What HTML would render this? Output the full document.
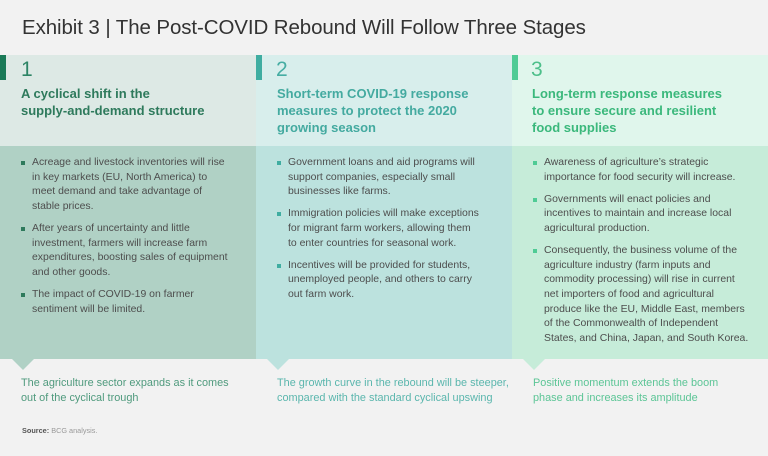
<!DOCTYPE html>
<html><head><meta charset="utf-8">
<style>
*{margin:0;padding:0;box-sizing:border-box}
html,body{width:768px;height:456px;overflow:hidden;background:#f2f2f2;font-family:"Liberation Sans",sans-serif}
.abs{position:absolute}
.title{left:22px;top:16px;font-size:20.5px;color:#333;white-space:nowrap;letter-spacing:-0.1px}
.hdr{top:55px;height:91px}
.bdy{top:146px;height:213px}
.bar{top:55px;width:6px;height:25px}
.num{top:58px;font-size:21px;font-weight:normal;line-height:24px}
.h{top:85px;font-size:13px;font-weight:bold;line-height:17px;white-space:nowrap}
.ul{font-size:10.45px;line-height:14.7px;color:#4d4d4d;white-space:nowrap}
.li{position:relative;padding-left:11px;margin-bottom:7.2px}
.li:before{content:"";position:absolute;left:0;top:5px;width:4px;height:4px}
.tri{top:359px;width:0;height:0;border-left:11px solid transparent;border-right:11px solid transparent;border-top:11px solid}
.ft{top:376px;font-size:10.9px;line-height:14.5px;white-space:nowrap}
.src{left:22px;top:426px;font-size:7.3px;color:#999;white-space:nowrap}
</style></head><body>
<div class="abs title">Exhibit 3 | The Post-COVID Rebound Will Follow Three Stages</div>

<!-- column 1 -->
<div class="abs hdr" style="left:0;width:256px;background:#dde9e5"></div>
<div class="abs bdy" style="left:0;width:256px;background:#b0d1c5"></div>
<div class="abs bar" style="left:0;background:#1a7a57"></div>
<div class="abs num" style="left:21px;color:#2d8465">1</div>
<div class="abs h" style="left:21px;color:#2e7a5c">A cyclical shift in the<br>supply-and-demand structure</div>
<div class="abs ul" style="left:21px;top:156px">
<div class="li">Acreage and livestock inventories will rise<br>in key markets (EU, North America) to<br>meet demand and take advantage of<br>stable prices.</div>
<div class="li">After years of uncertainty and little<br>investment, farmers will increase farm<br>expenditures, boosting sales of equipment<br>and other goods.</div>
<div class="li">The impact of COVID-19 on farmer<br>sentiment will be limited.</div>
</div>
<div class="abs tri" style="left:12px;border-top-color:#b0d1c5"></div>
<div class="abs ft" style="left:21px;color:#4f9a7d">The agriculture sector expands as it comes<br>out of the cyclical trough</div>

<!-- column 2 -->
<div class="abs hdr" style="left:256px;width:256px;background:#d8eeec"></div>
<div class="abs bdy" style="left:256px;width:256px;background:#bce2de"></div>
<div class="abs bar" style="left:256px;background:#3fada1"></div>
<div class="abs num" style="left:276px;color:#46ada3">2</div>
<div class="abs h" style="left:277px;color:#44aaa0">Short-term COVID-19 response<br>measures to protect the 2020<br>growing season</div>
<div class="abs ul c2" style="left:277px;top:156px">
<div class="li">Government loans and aid programs will<br>support companies, especially small<br>businesses like farms.</div>
<div class="li">Immigration policies will make exceptions<br>for migrant farm workers, allowing them<br>to enter countries for seasonal work.</div>
<div class="li">Incentives will be provided for students,<br>unemployed people, and others to carry<br>out farm work.</div>
</div>
<div class="abs tri" style="left:267px;border-top-color:#bce2de"></div>
<div class="abs ft" style="left:277px;color:#5ab6ad">The growth curve in the rebound will be steeper,<br>compared with the standard cyclical upswing</div>

<!-- column 3 -->
<div class="abs hdr" style="left:512px;width:256px;background:#e0f6ec"></div>
<div class="abs bdy" style="left:512px;width:256px;background:#c6ecd9"></div>
<div class="abs bar" style="left:512px;background:#4fcb95"></div>
<div class="abs num" style="left:531px;color:#4dbf8a">3</div>
<div class="abs h" style="left:532px;color:#3bb87c">Long-term response measures<br>to ensure secure and resilient<br>food supplies</div>
<div class="abs ul c3" style="left:533px;top:156px">
<div class="li">Awareness of agriculture’s strategic<br>importance for food security will increase.</div>
<div class="li">Governments will enact policies and<br>incentives to maintain and increase local<br>agricultural production.</div>
<div class="li">Consequently, the business volume of the<br>agriculture industry (farm inputs and<br>commodity processing) will rise in current<br>net importers of food and agricultural<br>produce like the EU, Middle East, members<br>of the Commonwealth of Independent<br>States, and China, Japan, and South Korea.</div>
</div>
<div class="abs tri" style="left:523px;border-top-color:#c6ecd9"></div>
<div class="abs ft" style="left:533px;color:#5cc596">Positive momentum extends the boom<br>phase and increases its amplitude</div>

<div class="abs src"><b style="color:#555">Source:</b> BCG analysis.</div>

<style>
.ul .li:before{background:#2e7a5c}
.c2 .li:before{background:#3fada1}
.c3 .li:before{background:#4fcb95}
</style>
</body></html>
